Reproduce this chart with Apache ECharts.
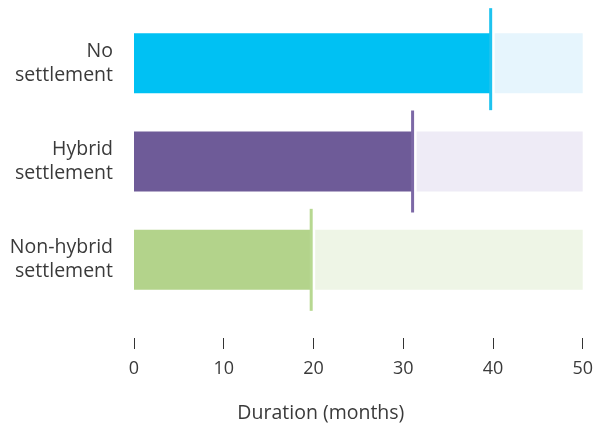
<!DOCTYPE html>
<html>
<head>
<meta charset="utf-8">
<script src="https://cdn.jsdelivr.net/npm/echarts@6/dist/echarts.min.js"></script>
<style>
  html, body { margin: 0; padding: 0; background: #fff; overflow: hidden; }
  #chart { width: 596px; height: 428px; }
</style>
</head>
<body>
<div id="chart"></div>
<script>
// Median duration of each settlement type, in months
const categories = ['No\nsettlement', 'Hybrid\nsettlement', 'Non-hybrid\nsettlement'];
const durations = [39.8, 31.1, 19.8];
const axisMax = 50;
const tickValues = [0, 10, 20, 30, 40, 50];

// Colours per row: solid bar, pale remainder, marker line
const solidColors = ['#00c1f3', '#6e5b98', '#b3d38b'];
const paleColors = ['#e6f5fd', '#eeebf6', '#eef5e6'];
const markerColors = ['#1ec3ef', '#7c68a6', '#b7d891'];
// Vertical nudge of each marker line (px, negative = up)
const markerShift = [-4, 0, 0];

const chart = echarts.init(document.getElementById('chart'), null, { renderer: 'canvas' });

const FONT = '"Open Sans", "Noto Sans", sans-serif';

chart.setOption({
  animation: false,
  grid: { left: 134, right: 7, top: 14, bottom: 117, containLabel: false },
  xAxis: {
    type: 'value',
    min: 0,
    max: axisMax,
    interval: 10,
    offset: 29,
    axisLine: { show: false },
    axisTick: { show: true, length: 11, lineStyle: { color: '#333', width: 1 } },
    splitLine: { show: false },
    axisLabel: {
      margin: 22,
      color: '#3a3a3a',
      fontSize: 18,
      fontFamily: FONT,
      formatter: v => tickValues.includes(v) ? String(v) : ''
    },
    name: 'Duration (months)',
    nameLocation: 'middle',
    nameGap: 65,
    nameTextStyle: { color: '#3a3a3a', fontSize: 19.5, fontFamily: FONT, padding: [0, 75, 0, 0] }
  },
  yAxis: {
    type: 'category',
    data: categories,
    inverse: true,
    axisLine: { show: false },
    axisTick: { show: false },
    axisLabel: {
      margin: 21,
      color: '#3a3a3a',
      fontSize: 19.5,
      lineHeight: 24,
      align: 'right',
      fontFamily: FONT
    }
  },
  series: [{
    type: 'custom',
    data: durations.map((v, i) => [v, i]),
    encode: { x: 0, y: 1 },
    renderItem: function (params, api) {
      const i = api.value(1);
      const v = api.value(0);
      const start = api.coord([0, i]);
      const end = api.coord([v, i]);
      const full = api.coord([axisMax, i]);
      const barH = 60;
      const top = start[1] - barH / 2;
      const mx = end[0] - 0.5;
      const gap = 4;
      const shift = markerShift[i];
      return {
        type: 'group',
        children: [
          {
            type: 'rect',
            shape: { x: mx + gap, y: top, width: full[0] - (mx + gap), height: barH },
            style: { fill: paleColors[i] }
          },
          {
            type: 'rect',
            shape: { x: start[0], y: top, width: end[0] - start[0], height: barH },
            style: { fill: solidColors[i] }
          },
          {
            type: 'line',
            shape: { x1: mx, y1: top - 21 + shift, x2: mx, y2: top + barH + 21 + shift },
            style: { stroke: markerColors[i], lineWidth: 3 }
          }
        ]
      };
    }
  }]
});
</script>
</body>
</html>
